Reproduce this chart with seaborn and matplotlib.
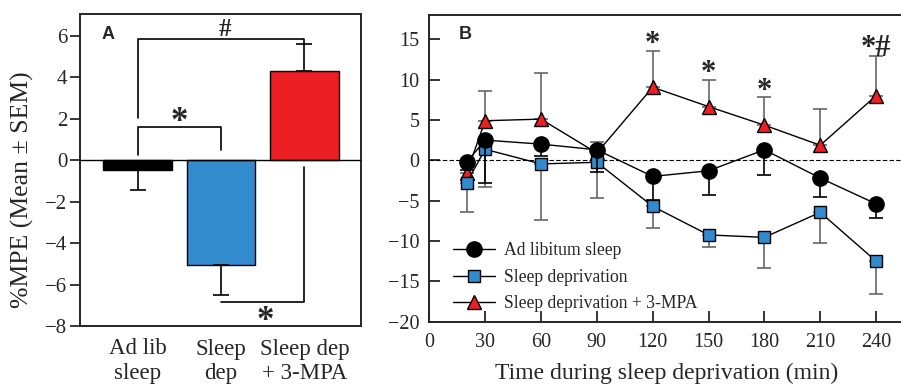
import numpy as np
import pandas as pd
import matplotlib
matplotlib.use('Agg')
import matplotlib.pyplot as plt
import seaborn as sns

# Panel A: pooled %MPE per group
groups = ['Ad lib\nsleep', 'Sleep\ndep', 'Sleep dep\n+ 3-MPA']
group_means = [-0.48, -5.07, 4.31]
group_sem = [0.97, 1.43, 1.29]
bar_colors = ['#000000', '#318BCC', '#EC2024']

# Panel B: time course
times = [20, 30, 60, 90, 120, 150, 180, 210, 240]
adlib_mean = [-0.25, 2.5, 2.0, 1.3, -2.0, -1.3, 1.3, -2.2, -5.4]
adlib_sem = [1.0, 5.3, 1.5, 2.8, 2.9, 2.95, 3.15, 2.4, 1.7]
sdep_mean = [-2.8, 1.36, -0.45, -0.25, -5.7, -9.25, -9.55, -6.45, -12.5]
sdep_sem = [3.6, 4.7, 6.95, 4.45, 2.7, 1.55, 3.75, 3.75, 4.1]
mpa_mean = [-1.6, 4.9, 5.1, 0.9, 9.05, 6.65, 4.35, 1.86, 8.0]
mpa_sem = [1.5, 3.7, 5.7, 1.4, 4.55, 3.35, 3.5, 4.5, 4.9]

sig_times = [120, 150, 180, 240]
sig_marks = ['*', '*', '*', '*#']
sig_y = [14.3, 10.8, 8.5, 13.9]

sns.set_style('ticks')
plt.rcParams['font.family'] = ['Liberation Serif', 'DejaVu Serif']
plt.rcParams['axes.linewidth'] = 1.4

fig = plt.figure(figsize=(9.01, 3.86), dpi=100)
W, H = 901, 386
axA = fig.add_axes([80 / W, (H - 326) / H, 281 / W, 312 / H])
axB = fig.add_axes([429.3 / W, (H - 321.7) / H, 474.7 / W, 306.7 / H])

# ---- Panel A ----
sns.barplot(x=groups, y=group_means, hue=groups, palette=bar_colors, legend=False,
            width=0.826, edgecolor='black', linewidth=1, saturation=1, ax=axA)
xpos = np.arange(len(groups))
lower = [s if m < 0 else 0 for m, s in zip(group_means, group_sem)]
upper = [s if m > 0 else 0 for m, s in zip(group_means, group_sem)]
axA.errorbar(xpos, group_means, yerr=[lower, upper], fmt='none', ecolor='black',
             elinewidth=1.2, capsize=6, capthick=1.2, zorder=1)
axA.axhline(0, color='black', lw=1, zorder=3)

# significance brackets
axA.plot([0, 0, 1, 1], [0.25, 1.6, 1.6, 0.5], color='black', lw=1.2)
axA.text(0.5, 1.8, '*', ha='center', va='center', fontsize=25, fontweight='bold')
axA.plot([0, 0, 2, 2], [2.05, 5.85, 5.85, 5.65], color='black', lw=1.2)
axA.text(1.05, 6.3, '#', ha='center', va='center', fontsize=18, fontweight='bold')
axA.plot([1, 2, 2], [-6.85, -6.85, -0.35], color='black', lw=1.2)
axA.text(1.53, -7.8, '*', ha='center', va='center', fontsize=25, fontweight='bold')

axA.set_xlim(-0.689, 2.677)
axA.set_ylim(-8, 7.05)
axA.set_yticks(np.arange(-8, 7, 2))
axA.tick_params(axis='y', direction='out', length=7, width=1.3, labelsize=15, pad=2)
axA.tick_params(axis='x', length=0, labelsize=16.5, pad=9)
for lab in axA.get_xticklabels():
    lab.set_linespacing(1.22)
axA.set_ylabel('%MPE (Mean \u00b1 SEM)', fontsize=18.5)
axA.yaxis.set_label_coords(-0.165, 0.4375)
axA.set_xlabel('')
for s in axA.spines.values():
    s.set_visible(True)
axA.text(0.1, 0.933, 'A', transform=axA.transAxes, fontsize=13, fontweight='bold',
         family='Liberation Sans', ha='center', va='center')

# ---- Panel B ----
series = [
    ('Sleep deprivation + 3-MPA', mpa_mean, mpa_sem, '^', '#EC2024', 10.5, 'up', '#666666', 2),
    ('Sleep deprivation', sdep_mean, sdep_sem, 's', '#318BCC', 9, 'down', '#666666', 3),
    ('Ad libitum sleep', adlib_mean, adlib_sem, 'o', '#000000', 11, 'down', '#000000', 4),
]
for name, mean, sem, mk, fc, ms, side, ecol, z in series:
    yerr = [sem, [0] * len(sem)] if side == 'down' else [[0] * len(sem), sem]
    axB.errorbar(times, mean, yerr=yerr, fmt='none', ecolor=ecol, elinewidth=1.2,
                 capsize=4.7, capthick=1.2, zorder=z - 0.5)
    sns.lineplot(x=times, y=mean, color='black', lw=1, marker=mk, markersize=ms,
                 markerfacecolor=fc, markeredgecolor='black', markeredgewidth=1,
                 label=name, zorder=z, ax=axB)
axB.axhline(0, color='black', lw=0.8, ls=(0, (4, 2)), zorder=1)

for t, m, y in zip(sig_times, sig_marks, sig_y):
    axB.text(t, y, m, ha='center', va='center', fontsize=22, fontweight='bold')

h, l = axB.get_legend_handles_labels()
order = [l.index('Ad libitum sleep'), l.index('Sleep deprivation'),
         l.index('Sleep deprivation + 3-MPA')]
axB.legend([h[i] for i in order], [l[i] for i in order], loc='lower left',
           bbox_to_anchor=(0.049, 0.03), frameon=False, fontsize=12.7,
           handlelength=2.4, handletextpad=0.5, labelspacing=0.55, borderpad=0,
           borderaxespad=0)

axB.set_xlim(0, 255)
axB.set_ylim(-20, 18)
axB.set_xticks(np.arange(0, 241, 30))
axB.set_yticks(np.arange(-20, 16, 5))
axB.tick_params(direction='in', length=8, width=1.3, labelsize=14.5)
axB.tick_params(axis='x', pad=8)
axB.tick_params(axis='y', pad=7)
axB.set_xlabel('Time during sleep deprivation (min)', fontsize=17, labelpad=8)
axB.set_ylabel('')
for s in axB.spines.values():
    s.set_visible(True)
axB.text(0.075, 0.935, 'B', transform=axB.transAxes, fontsize=13, fontweight='bold',
         family='Liberation Sans', ha='center', va='center')

fig.savefig('out.png', dpi=100)
